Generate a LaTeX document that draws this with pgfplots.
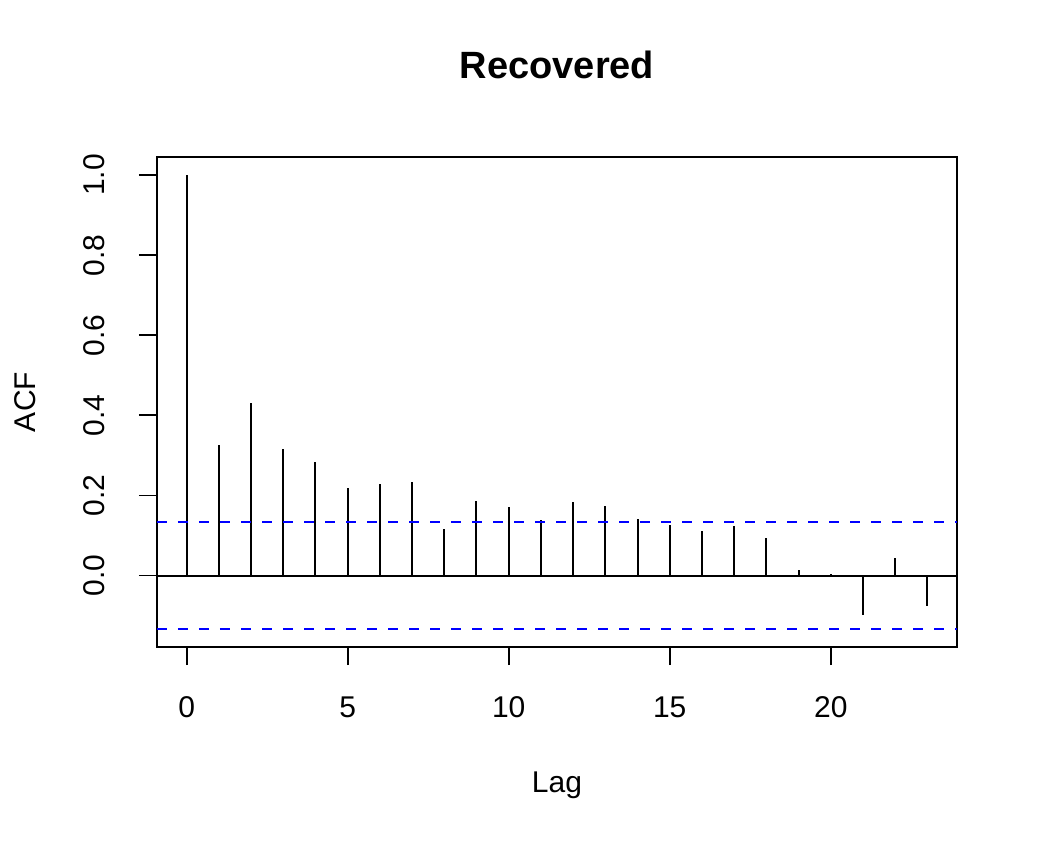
\documentclass[border=0pt]{standalone}
\usepackage{pgfplots}
\pgfplotsset{compat=1.18}
\usepackage{fontspec}
\setmainfont{Liberation Sans}
\definecolor{rblue}{RGB}{0,0,255}
\begin{document}
\fontsize{15pt}{18pt}\selectfont
\begin{tikzpicture}
\useasboundingbox (-78.5pt,-97.5pt) rectangle (440.5pt,323.5pt);
\begin{axis}[
  at={(0pt,0pt)}, anchor=south west,
  scale only axis, width=400pt, height=245pt,
  xmin=-0.92, xmax=23.92, ymin=-0.1786, ymax=1.0453,
  xtick={0,5,10,15,20}, ytick={0,0.2,0.4,0.6,0.8,1.0},
  tick pos=left, tick align=outside, major tick length=9pt,
  tick style={black, line width=0.9pt},
  axis line style={black, line width=0.9pt},
  /pgf/number format/assume math mode=true,
  yticklabel={\pgfmathprintnumber[fixed,fixed zerofill,precision=1,assume math mode=true]{\tick}},
  xticklabel style={anchor=base},
  yticklabel style={rotate=90, anchor=base},
  xticklabel shift=26pt,
  yticklabel shift=17pt,
  every axis title shift=0pt,
  title={\bfseries\fontsize{19pt}{22pt}\selectfont Recovered},
  title style={at={(axis description cs:0.5,1.1592)}, anchor=base, inner sep=0pt},
  xlabel={Lag}, ylabel={ACF},
  xlabel style={at={(axis description cs:0.5,-0.2959)}, anchor=base, inner sep=0pt},
  ylabel style={at={(axis description cs:-0.152,0.5)}, rotate=0, anchor=base, inner sep=0pt},
]
\addplot[ycomb, black, line width=1pt, mark=none] coordinates {
(0,1.0) (1,0.327) (2,0.432) (3,0.316) (4,0.283) (5,0.218) (6,0.228) (7,0.234)
(8,0.117) (9,0.185) (10,0.170) (11,0.139) (12,0.183) (13,0.173) (14,0.141)
(15,0.126) (16,0.111) (17,0.124) (18,0.094) (19,0.013) (20,0.005) (21,-0.098)
(22,0.044) (23,-0.077)
};
\addplot[black, line width=1pt, mark=none] coordinates {(-0.92,0) (23.92,0)};
\addplot[rblue, line width=1pt, dash pattern=on 5pt off 5.5pt, mark=none] coordinates {(-0.92,0.1333) (23.92,0.1333)};
\addplot[rblue, line width=1pt, dash pattern=on 5pt off 5.5pt, mark=none] coordinates {(-0.92,-0.1333) (23.92,-0.1333)};
\end{axis}
\end{tikzpicture}
\end{document}
